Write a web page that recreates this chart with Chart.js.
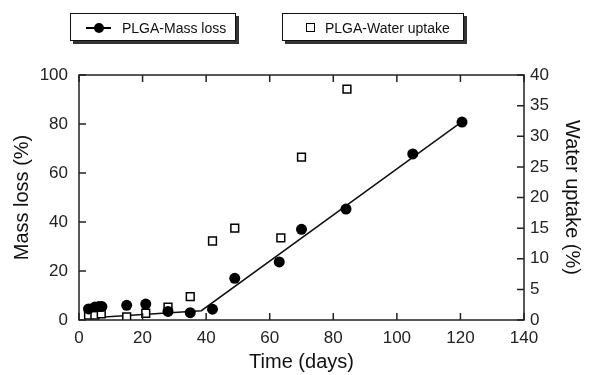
<!DOCTYPE html>
<html>
<head>
<meta charset="utf-8">
<script src="https://cdn.jsdelivr.net/npm/chart.js@4/dist/chart.umd.min.js"></script>
<style>
  body { margin: 0; background: #fff; }
  #wrap { position: relative; width: 590px; height: 375px; }
  .leg {
    position: absolute; top: 13px; height: 28px; box-sizing: border-box;
    border: 1px solid #111; box-shadow: 3px 3px 0 #333; background: #fff;
    font: 14px "Liberation Sans", Arial, sans-serif; color: #111;
  }
  .leg span { position: absolute; top: 6px; }
  .dotline { position: absolute; left: 15px; top: 13px; width: 25px; height: 2px; background: #000; }
  .dotline::after { content: ''; position: absolute; left: 8px; top: -4px; width: 10px; height: 10px; border-radius: 50%; background: #000; }
  .sq { position: absolute; left: 23px; top: 9px; width: 7px; height: 7px; border: 1.5px solid #000; background: #fff; }
</style>
</head>
<body>
<div id="wrap">
  <canvas id="chart" width="590" height="375"></canvas>
  <div class="leg" style="left:70px;width:166px;"><div class="dotline"></div><span style="left:51px;">PLGA-Mass loss</span></div>
  <div class="leg" style="left:282px;width:182px;"><div class="sq"></div><span style="left:42px;">PLGA-Water uptake</span></div>
</div>
<script>
// Values
const massDays = [3, 5, 6.3, 7.2, 15, 21, 28, 35, 42, 49, 63, 70, 84, 105, 120.5];
const massLoss = [4.5, 5.3, 5.5, 5.5, 6, 6.5, 3.5, 3, 4.4, 17, 23.7, 37, 45.3, 67.8, 80.8];

const waterDays = [3, 5, 7, 15, 21, 28, 35, 42, 49, 63.5, 70, 84.3];
const waterUptake = [0.8, 0.8, 1, 0.5, 1.1, 2.1, 3.8, 12.9, 15, 13.4, 26.6, 37.7];

// Fitted trend line (mass loss)
const trendDays = [3, 38.5, 120.5];
const trendLoss = [0.8, 3.8, 81];

const xTicks = [0, 20, 40, 60, 80, 100, 120, 140];

const FONT = '"Liberation Sans", Arial, sans-serif';
const toPts = (xs, ys) => xs.map((x, i) => ({ x, y: ys[i] }));

// Frame + inward tick marks on all four sides
const frameTicks = {
  id: 'frameTicks',
  afterDraw(chart) {
    const { ctx, chartArea: a, scales } = chart;
    const len = 7;
    ctx.save();
    ctx.strokeStyle = '#222';
    ctx.lineWidth = 1.5;
    ctx.strokeRect(a.left, a.top, a.right - a.left, a.bottom - a.top);
    ctx.beginPath();
    scales.x.ticks.forEach(t => {
      const px = scales.x.getPixelForValue(t.value);
      ctx.moveTo(px, a.bottom); ctx.lineTo(px, a.bottom - len);
      ctx.moveTo(px, a.top); ctx.lineTo(px, a.top + len);
    });
    scales.y.ticks.forEach(t => {
      const py = scales.y.getPixelForValue(t.value);
      ctx.moveTo(a.left, py); ctx.lineTo(a.left + len, py);
    });
    scales.y1.ticks.forEach(t => {
      const py = scales.y1.getPixelForValue(t.value);
      ctx.moveTo(a.right, py); ctx.lineTo(a.right - len, py);
    });
    ctx.stroke();
    ctx.restore();
  }
};

const tickFont = { family: FONT, size: 17 };
const titleFont = { family: FONT, size: 20 };

new Chart(document.getElementById('chart'), {
  type: 'scatter',
  data: {
    datasets: [
      {
        label: 'PLGA-Mass loss',
        data: toPts(massDays, massLoss),
        yAxisID: 'y',
        pointStyle: 'circle',
        pointRadius: 5.5,
        backgroundColor: '#000',
        borderColor: '#000',
        borderWidth: 0
      },
      {
        label: 'PLGA-Water uptake',
        data: toPts(waterDays, waterUptake),
        yAxisID: 'y1',
        pointStyle: 'rect',
        pointRadius: 5.5,
        backgroundColor: '#fff',
        borderColor: '#000',
        borderWidth: 1.5
      },
      {
        label: 'Trend',
        data: toPts(trendDays, trendLoss),
        yAxisID: 'y',
        showLine: true,
        pointRadius: 0,
        borderColor: '#111',
        borderWidth: 1.5,
        backgroundColor: '#111'
      }
    ]
  },
  options: {
    responsive: false,
    animation: false,
    layout: { padding: { top: 75, left: 0, right: 0, bottom: 0 } },
    plugins: { legend: { display: false }, tooltip: { enabled: false } },
    scales: {
      x: {
        type: 'linear', min: 0, max: 140,
        afterBuildTicks: s => { s.ticks = xTicks.map(v => ({ value: v })); },
        grid: { display: false, drawTicks: false },
        border: { display: false },
        ticks: { font: tickFont, color: '#222', padding: 8, maxRotation: 0 },
        title: { display: true, text: 'Time (days)', font: titleFont, color: '#111', padding: { top: 0, bottom: 1 } },
        afterFit: s => { s.height = 55; }
      },
      y: {
        position: 'left', min: 0, max: 100,
        ticks: { stepSize: 20, font: tickFont, color: '#222', padding: 11 },
        grid: { display: false, drawTicks: false },
        border: { display: false },
        title: { display: true, text: 'Mass loss (%)', font: titleFont, color: '#111', padding: { top: 10, bottom: 0 } },
        afterFit: s => { s.width = 79; }
      },
      y1: {
        position: 'right', min: 0, max: 40,
        ticks: { stepSize: 5, font: tickFont, color: '#222', padding: 6 },
        grid: { display: false, drawTicks: false },
        border: { display: false },
        title: { display: true, text: 'Water uptake (%)', font: titleFont, color: '#111', padding: { top: 6, bottom: 0 } },
        afterFit: s => { s.width = 66; }
      }
    }
  },
  plugins: [frameTicks]
});
</script>
</body>
</html>
